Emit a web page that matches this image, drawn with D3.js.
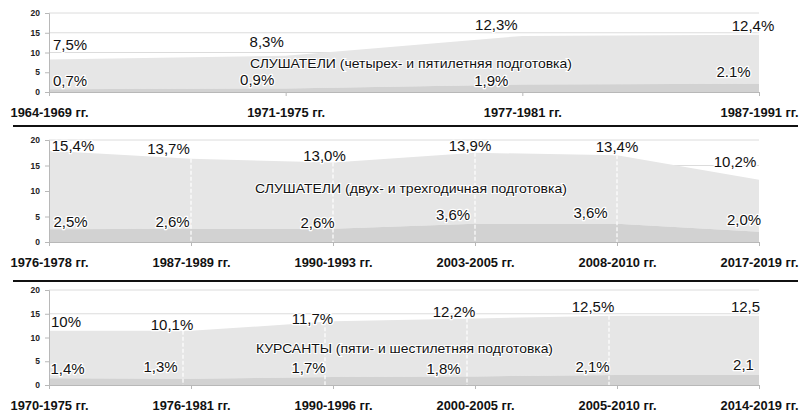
<!DOCTYPE html>
<html>
<head>
<meta charset="utf-8">
<script src="https://cdn.jsdelivr.net/npm/d3@7"></script>
<style>
  html, body { margin: 0; padding: 0; background: #ffffff; }
  svg { display: block; }
</style>
</head>
<body>
<svg id="chart" width="803" height="413"></svg>
<script>
// ---- data ----
const titles = [
  "СЛУШАТЕЛИ (четырех- и пятилетняя подготовка)",
  "СЛУШАТЕЛИ (двух- и трехгодичная подготовка)",
  "КУРСАНТЫ (пяти- и шестилетняя подготовка)"
];
const periods1 = ["1964-1969 гг.", "1971-1975 гг.", "1977-1981 гг.", "1987-1991 гг."];
const upper1 = [7.5, 8.3, 12.3, 12.4];
const lower1 = [0.7, 0.9, 1.9, 2.1];
const upperText1 = ["7,5%", "8,3%", "12,3%", "12,4%"];
const lowerText1 = ["0,7%", "0,9%", "1,9%", "2.1%"];

const periods2 = ["1976-1978 гг.", "1987-1989 гг.", "1990-1993 гг.", "2003-2005 гг.", "2008-2010 гг.", "2017-2019 гг."];
const upper2 = [15.4, 13.7, 13.0, 13.9, 13.4, 10.2];
const lower2 = [2.5, 2.6, 2.6, 3.6, 3.6, 2.0];
const upperText2 = ["15,4%", "13,7%", "13,0%", "13,9%", "13,4%", "10,2%"];
const lowerText2 = ["2,5%", "2,6%", "2,6%", "3,6%", "3,6%", "2,0%"];

const periods3 = ["1970-1975 гг.", "1976-1981 гг.", "1990-1996 гг.", "2000-2005 гг.", "2005-2010 гг.", "2014-2019 гг."];
const upper3 = [10, 10.1, 11.7, 12.2, 12.5, 12.5];
const lower3 = [1.4, 1.3, 1.7, 1.8, 2.1, 2.1];
const upperText3 = ["10%", "10,1%", "11,7%", "12,2%", "12,5%", "12,5"];
const lowerText3 = ["1,4%", "1,3%", "1,7%", "1,8%", "2,1%", "2,1"];

const yTicks = [0, 5, 10, 15, 20];

// ---- layout (not data) ----
const panels = [
  { periods: periods1, upper: upper1, lower: lower1, ut: upperText1, lt: lowerText1, title: titles[0],
    top: 13, bottom: 92, dividers: false, divShift: 0,
    udx: [21, -19, -26, -6], udy: [-9.6, -8.7, -5.9, -3.7],
    ldx: [21, -28.5, -31, -25.5], ldy: [-3.2, -3.4, 1.5, -6.7],
    titleY: 68, titleLen: 322, titleX: 411 },
  { periods: periods2, upper: upper2, lower: lower2, ut: upperText2, lt: lowerText2, title: titles[1],
    top: 140, bottom: 242, dividers: true, divShift: 0,
    udx: [24, -22.5, -8.5, -5, 0, -24], udy: [0, -5, -1.4, -1.75, -3.3, -12.8],
    ldx: [21.5, -18.5, -15.5, -22, -26.5, -15], ldy: [-2.25, -1.7, -0.7, -3.6, -5.6, -6.8],
    titleY: 193, titleLen: 312, titleX: 411 },
  { periods: periods3, upper: upper3, lower: lower3, ut: upperText3, lt: lowerText3, title: titles[2],
    top: 290, bottom: 385, dividers: true, divShift: -8,
    udx: [17, -19, -20.5, -21, -24, -13.5], udy: [-3.85, -0.85, 2.65, -1.5, -3.65, -3.65],
    ldx: [18.5, -30.5, -24.5, -31.5, -24.5, -15.5], ldy: [-4.35, -6.8, -3.9, -2.45, -3, -5],
    titleY: 353, titleLen: 297, titleX: 404.5 }
];

const svg = d3.select("#chart");
const xLeft = 49, xRight = 759;
const FONT = "'Liberation Sans', Arial, sans-serif";
const NARROW = "'Liberation Sans Narrow', 'Arial Narrow', 'Liberation Sans', Arial, sans-serif";

panels.forEach(p => {
  const g = svg.append("g");
  const x = d3.scalePoint().domain(p.periods).range([xLeft, xRight]);
  const y = d3.scaleLinear().domain([0, 20]).range([p.bottom, p.top]);

  // gridlines
  g.append("g").selectAll("line").data(yTicks.filter(t => t > 0)).join("line")
    .attr("x1", xLeft).attr("x2", xRight)
    .attr("y1", d => y(d)).attr("y2", d => y(d))
    .attr("stroke", "#dcdcdc").attr("stroke-width", 1);

  const rows = p.periods.map((c, i) => ({ c, lo: p.lower[i], hi: p.lower[i] + p.upper[i] }));

  // upper (stacked) area
  g.append("path").datum(rows)
    .attr("d", d3.area().x(d => x(d.c)).y0(d => y(d.lo)).y1(d => y(d.hi)))
    .attr("fill", "#e6e6e6");
  // lower area
  g.append("path").datum(rows)
    .attr("d", d3.area().x(d => x(d.c)).y0(y(0)).y1(d => y(d.lo)))
    .attr("fill", "#d2d2d2");

  // white dashed dividers
  if (p.dividers) {
    g.append("g").selectAll("line").data(rows.slice(1, -1)).join("line")
      .attr("x1", d => x(d.c) + p.divShift).attr("x2", d => x(d.c) + p.divShift)
      .attr("y1", d => y(d.hi)).attr("y2", y(0))
      .attr("stroke", "#ffffff").attr("stroke-width", 1.2).attr("stroke-dasharray", "4,2");
  }

  // y axis
  const ya = g.append("g").attr("transform", `translate(${xLeft},0)`)
    .call(d3.axisLeft(y).tickValues(yTicks).tickSize(4).tickPadding(5));
  ya.select(".domain").attr("stroke", "#b8b8b8");
  ya.selectAll(".tick line").attr("stroke", "#b8b8b8");
  ya.selectAll("text").attr("font-family", FONT).attr("font-weight", "bold")
    .attr("font-size", 8.5).attr("fill", "#222");

  // x axis
  const xa = g.append("g").attr("transform", `translate(0,${p.bottom})`)
    .call(d3.axisBottom(x).tickSize(4).tickPadding(12));
  xa.select(".domain").attr("stroke", "#b8b8b8");
  xa.selectAll(".tick line").attr("stroke", "#b8b8b8");
  xa.selectAll("text").attr("font-family", NARROW).attr("font-weight", "bold")
    .attr("font-size", 13).attr("fill", "#111").attr("dy", "0.71em")
    .attr("textLength", 78).attr("lengthAdjust", "spacingAndGlyphs");

  // labels
  const lab = (txt, xx, yy) => g.append("text")
    .attr("x", xx).attr("y", yy).attr("text-anchor", "middle")
    .attr("font-family", NARROW).attr("font-size", 15).attr("fill", "#111")
    .attr("stroke", "#ffffff").attr("stroke-width", 2.5).attr("paint-order", "stroke")
    .attr("stroke-linejoin", "round")
    .text(txt);
  rows.forEach((d, i) => {
    lab(p.ut[i], x(d.c) + p.udx[i], y(d.hi) + p.udy[i]);
    lab(p.lt[i], x(d.c) + p.ldx[i], y(d.lo) + p.ldy[i]);
  });

  // title
  g.append("text").attr("x", p.titleX).attr("y", p.titleY)
    .attr("text-anchor", "middle").attr("font-family", NARROW)
    .attr("font-size", 13.5).attr("fill", "#111")
    .attr("stroke", "#ffffff").attr("stroke-width", 2).attr("paint-order", "stroke")
    .attr("textLength", p.titleLen).attr("lengthAdjust", "spacingAndGlyphs")
    .text(p.title);
});

// separators
[126, 281].forEach(yy => {
  svg.append("line").attr("x1", 13).attr("x2", 798).attr("y1", yy).attr("y2", yy)
    .attr("stroke", "#111").attr("stroke-width", 2.2);
});
</script>
</body>
</html>
